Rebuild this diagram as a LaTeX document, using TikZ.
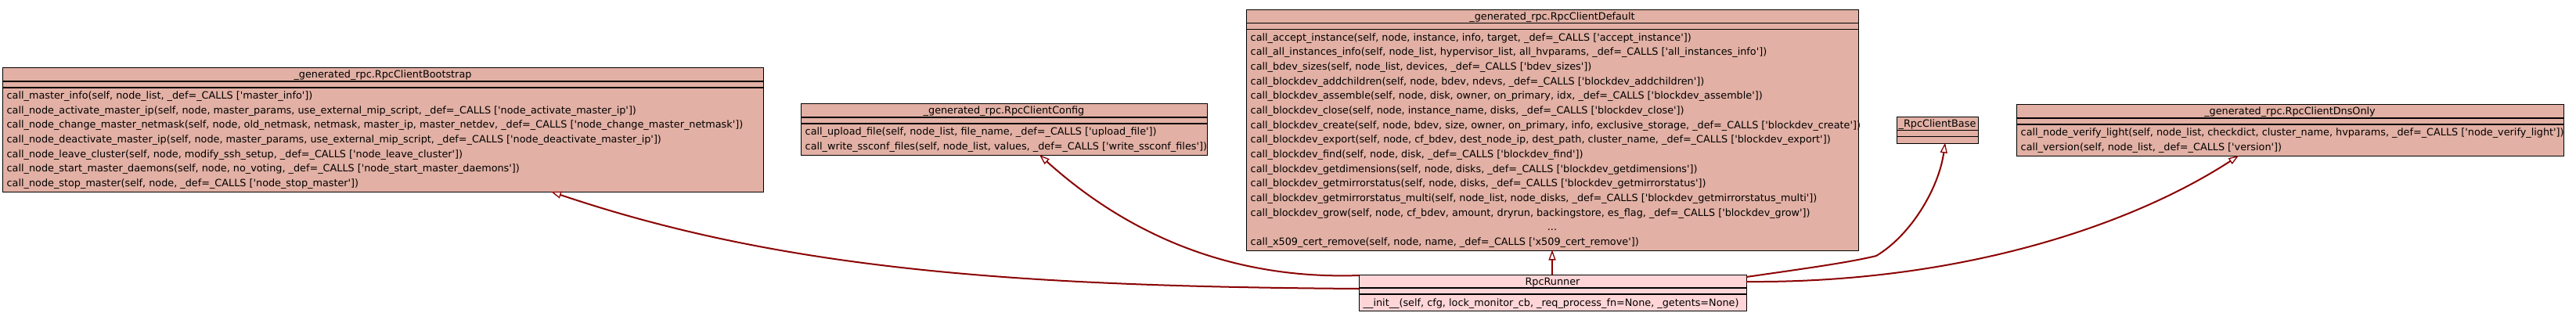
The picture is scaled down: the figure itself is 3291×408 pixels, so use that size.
\documentclass[tikz,border=0pt]{standalone}
\usepackage{fontspec}
\newfontfamily\dv{DejaVu Sans}
\usetikzlibrary{arrows.meta}
\definecolor{parentfill}{RGB}{226,176,164}
\definecolor{runfill}{RGB}{255,213,215}
\definecolor{edgecol}{RGB}{139,0,0}
\tikzset{
  classbox/.style={draw=black, line width=1.3pt, fill=parentfill, inner sep=0pt, anchor=north west},
  runbox/.style={classbox, fill=runfill},
  sepline/.style={draw=black, line width=1.3pt},
  txt/.style={font=\dv\fontsize{12.8}{15}\selectfont, inner sep=0pt, anchor=base west},
  ttl/.style={font=\dv\fontsize{12.8}{15}\selectfont, inner sep=0pt, anchor=base},
  inh/.style={draw=edgecol, line width=2pt, -{Triangle[open, length=13pt, width=9pt, line width=1.3pt]}},
}
\begin{document}
\begin{tikzpicture}[x=1pt,y=-1pt]
\useasboundingbox (0,0) rectangle (3291,408);
% ---------------- Bootstrap ----------------
\node[classbox, minimum width=972pt, minimum height=159pt] (boot) at (3,86) {};
\draw[sepline] (3,104) -- (975,104);
\draw[sepline] (3,112) -- (975,112);
\node[ttl] (bootT) at (489,99.5) {\_generated\_rpc.RpcClientBootstrap};
\node[txt] (b1) at (8.5,126.5) {call\_master\_info(self, node\_list, \_def=\_CALLS ['master\_info'])};
\node[txt] (b2) at (8.5,145.17) {call\_node\_activate\_master\_ip(self, node, master\_params, use\_external\_mip\_script, \_def=\_CALLS ['node\_activate\_master\_ip'])};
\node[txt] (b3) at (8.5,163.83) {call\_node\_change\_master\_netmask(self, node, old\_netmask, netmask, master\_ip, master\_netdev, \_def=\_CALLS ['node\_change\_master\_netmask'])};
\node[txt] (b4) at (8.5,182.5) {call\_node\_deactivate\_master\_ip(self, node, master\_params, use\_external\_mip\_script, \_def=\_CALLS ['node\_deactivate\_master\_ip'])};
\node[txt] (b5) at (8.5,201.17) {call\_node\_leave\_cluster(self, node, modify\_ssh\_setup, \_def=\_CALLS ['node\_leave\_cluster'])};
\node[txt] (b6) at (8.5,219.83) {call\_node\_start\_master\_daemons(self, node, no\_voting, \_def=\_CALLS ['node\_start\_master\_daemons'])};
\node[txt] (b7) at (8.5,238.5) {call\_node\_stop\_master(self, node, \_def=\_CALLS ['node\_stop\_master'])};
% ---------------- Config ----------------
\node[classbox, minimum width=519pt, minimum height=66pt] (conf) at (1023,132) {};
\draw[sepline] (1023,150) -- (1542,150);
\draw[sepline] (1023,158) -- (1542,158);
\node[ttl] (confT) at (1282.5,145.5) {\_generated\_rpc.RpcClientConfig};
\node[txt] (c1) at (1028.5,172.5) {call\_upload\_file(self, node\_list, file\_name, \_def=\_CALLS ['upload\_file'])};
\node[txt] (c2) at (1028.5,191.17) {call\_write\_ssconf\_files(self, node\_list, values, \_def=\_CALLS ['write\_ssconf\_files'])};
% ---------------- Default ----------------
\node[classbox, minimum width=782pt, minimum height=307.5pt] (def) at (1592,12) {};
\draw[sepline] (1592,29.5) -- (2374,29.5);
\draw[sepline] (1592,37.5) -- (2374,37.5);
\node[ttl] (defT) at (1983,25.25) {\_generated\_rpc.RpcClientDefault};
\node[txt] (d1) at (1597.5,52) {call\_accept\_instance(self, node, instance, info, target, \_def=\_CALLS ['accept\_instance'])};
\node[txt] (d2) at (1597.5,70.67) {call\_all\_instances\_info(self, node\_list, hypervisor\_list, all\_hvparams, \_def=\_CALLS ['all\_instances\_info'])};
\node[txt] (d3) at (1597.5,89.33) {call\_bdev\_sizes(self, node\_list, devices, \_def=\_CALLS ['bdev\_sizes'])};
\node[txt] (d4) at (1597.5,108) {call\_blockdev\_addchildren(self, node, bdev, ndevs, \_def=\_CALLS ['blockdev\_addchildren'])};
\node[txt] (d5) at (1597.5,126.67) {call\_blockdev\_assemble(self, node, disk, owner, on\_primary, idx, \_def=\_CALLS ['blockdev\_assemble'])};
\node[txt] (d6) at (1597.5,145.33) {call\_blockdev\_close(self, node, instance\_name, disks, \_def=\_CALLS ['blockdev\_close'])};
\node[txt] (d7) at (1597.5,164) {call\_blockdev\_create(self, node, bdev, size, owner, on\_primary, info, exclusive\_storage, \_def=\_CALLS ['blockdev\_create'])};
\node[txt] (d8) at (1597.5,182.67) {call\_blockdev\_export(self, node, cf\_bdev, dest\_node\_ip, dest\_path, cluster\_name, \_def=\_CALLS ['blockdev\_export'])};
\node[txt] (d9) at (1597.5,201.33) {call\_blockdev\_find(self, node, disk, \_def=\_CALLS ['blockdev\_find'])};
\node[txt] (d10) at (1597.5,220) {call\_blockdev\_getdimensions(self, node, disks, \_def=\_CALLS ['blockdev\_getdimensions'])};
\node[txt] (d11) at (1597.5,238.67) {call\_blockdev\_getmirrorstatus(self, node, disks, \_def=\_CALLS ['blockdev\_getmirrorstatus'])};
\node[txt] (d12) at (1597.5,257.33) {call\_blockdev\_getmirrorstatus\_multi(self, node\_list, node\_disks, \_def=\_CALLS ['blockdev\_getmirrorstatus\_multi'])};
\node[txt] (d13) at (1597.5,276) {call\_blockdev\_grow(self, node, cf\_bdev, amount, dryrun, backingstore, es\_flag, \_def=\_CALLS ['blockdev\_grow'])};
\node[ttl] (d14) at (1983,294.67) {...};
\node[txt] (d15) at (1597.5,313.33) {call\_x509\_cert\_remove(self, node, name, \_def=\_CALLS ['x509\_cert\_remove'])};
% ---------------- Base ----------------
\node[classbox, minimum width=104pt, minimum height=33.5pt] (base) at (2423,149) {};
\draw[sepline] (2423,166.5) -- (2527,166.5);
\draw[sepline] (2423,174.5) -- (2527,174.5);
\node[ttl] (baseT) at (2475,162.25) {\_RpcClientBase};
% ---------------- DnsOnly ----------------
\node[classbox, minimum width=699pt, minimum height=66pt] (dns) at (2576,133) {};
\draw[sepline] (2576,151) -- (3275,151);
\draw[sepline] (2576,159) -- (3275,159);
\node[ttl] (dnsT) at (2925.5,146.5) {\_generated\_rpc.RpcClientDnsOnly};
\node[txt] (n1) at (2581.5,173.5) {call\_node\_verify\_light(self, node\_list, checkdict, cluster\_name, hvparams, \_def=\_CALLS ['node\_verify\_light'])};
\node[txt] (n2) at (2581.5,192.17) {call\_version(self, node\_list, \_def=\_CALLS ['version'])};
% ---------------- Runner ----------------
\node[runbox, minimum width=495pt, minimum height=46pt] (run) at (1736,351) {};
\draw[sepline] (1736,368) -- (2231,368);
\draw[sepline] (1736,376) -- (2231,376);
\node[ttl] (runT) at (1983.5,364) {RpcRunner};
\node[txt] (r1) at (1741.5,391) {\_\_init\_\_(self, cfg, lock\_monitor\_cb, \_req\_process\_fn=None, \_getents=None)};
% ---------------- connector end points ----------------
\coordinate (rB) at (1736,369);
\coordinate (tB) at (704,245);
\coordinate (rC) at (1736,352);
\coordinate (tC) at (1328,198);
\coordinate (rD) at (1983,351);
\coordinate (tD) at (1983,319.5);
\coordinate (rS) at (2231,354);
\coordinate (mS) at (2397,327);
\coordinate (tS) at (2485,182.5);
\coordinate (rN) at (2231,360);
\coordinate (tN) at (2860,199);
% ---------------- connectors ----------------
\draw[inh] (rB) .. controls (1300,366) and (1000,345) .. (tB);
\draw[inh] (rC) .. controls (1560,358) and (1430,290) .. (tC);
\draw[inh] (rD) -- (tD);
\draw[inh] (rS) .. controls (2300,344) and (2360,336) .. (mS) .. controls (2442,300) and (2477,240) .. (tS);
\draw[inh] (rN) .. controls (2500,362) and (2720,290) .. (tN);
\end{tikzpicture}
\end{document}
